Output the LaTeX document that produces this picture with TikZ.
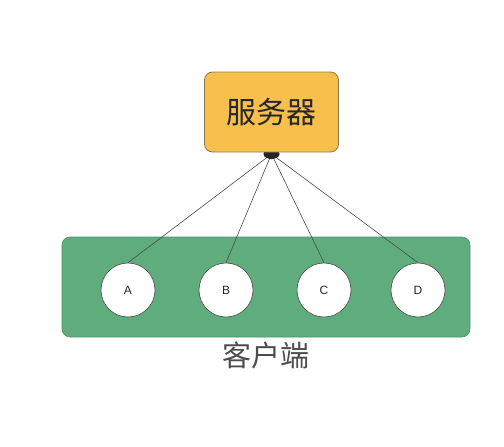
\documentclass[tikz,border=0pt]{standalone}
\usepackage{fontspec}
\newfontfamily\cjk{Noto Sans CJK SC}
\setsansfont{Liberation Sans}
\definecolor{srvfill}{HTML}{F7C04C}
\definecolor{srvdraw}{HTML}{8C7A4E}
\definecolor{grpfill}{HTML}{5FAD7C}
\definecolor{grpdraw}{HTML}{4F9468}
\definecolor{linegray}{HTML}{4A4A4A}
\begin{document}
\begin{tikzpicture}[x=1pt,y=-1pt,
  server/.style={draw=srvdraw,fill=srvfill,rounded corners=8pt,line width=0.8pt,minimum width=134pt,minimum height=80pt,font=\cjk\fontsize{30}{30}\selectfont,text=black!85},
  group/.style={draw=grpdraw,fill=grpfill,rounded corners=8pt,line width=0.6pt,minimum width=408pt,minimum height=100pt},
  client/.style={circle,draw=linegray,fill=white,line width=0.6pt,minimum size=54pt,inner sep=0pt,font=\sffamily\fontsize{12}{12}\selectfont,text=black!85},
  link/.style={draw=linegray,line width=0.6pt},
  caption/.style={font=\cjk\fontsize{29}{29}\selectfont,text=black!70}]
\useasboundingbox (0,0) rectangle (504,447);
\node[group] (g) at (266,287) {};
\coordinate (j) at (271.5,154);
\node[client] (a) at (128,290) {A};
\node[client] (b) at (226,290) {B};
\node[client] (c) at (324,290) {C};
\node[client] (d) at (418,290) {D};
\foreach \n in {a,b,c,d} \draw[link] (j) -- (\n.north);
\fill[black!85] (j) ellipse (8pt and 5pt);
\node[server] (s) at (271.5,112) {服务器};
\node[caption] (cap) at (266,355) {客户端};
\end{tikzpicture}
\end{document}
